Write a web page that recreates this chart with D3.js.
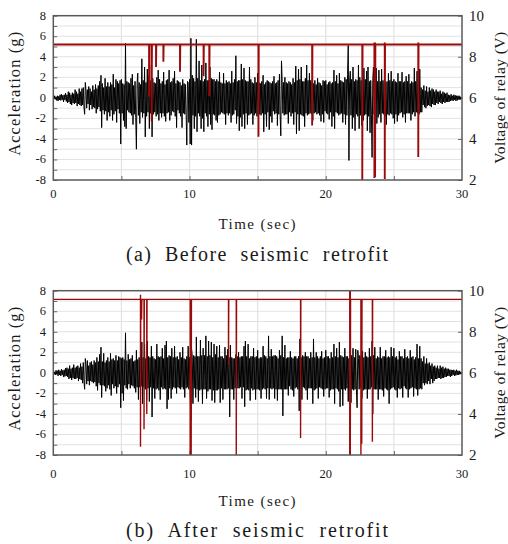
<!DOCTYPE html>
<html>
<head>
<meta charset="utf-8">
<script src="https://cdn.jsdelivr.net/npm/d3@7"></script>
<style>
  body { margin: 0; background: #fff; }
  svg text { font-family: "Liberation Serif", "Times New Roman", Tinos, "DejaVu Serif", serif; fill: #1a1a1a; }
</style>
</head>
<body>
<script>
// acceleration samples every 0.05 s (g)
var accA = [
  0, -0.1, 0.2, -0.15, 0.1, -0.25, 0.2, -0.3, 0.15, -0.2, 0.3, -0.25, 0.35, -0.2, 0.25, -0.4, 0.3, -0.2, 0.45, -0.35,
  0.3, -0.5, 0.6, -0.4, 0.5, -0.6, 0.3, -0.7, 0.5, -0.5, 0.4, -0.6, 0.8, -0.5, 0.6, -0.8, 0.4, -0.6, 0.9, -0.7,
  0.6, -0.8, 0.9, -0.7, 1.0, -0.9, -1.6, 1.5, 0.7, -1.0, 0.8, -0.6, 1.1, -1.2, 0.9, -0.7, 0.6, -1.1, 1.2, -0.9,
  0.8, -1.0, 1.3, -1.5, 0.9, -1.1, 1.2, -0.9, 1.6, -1.3, 2.2, -2.9, 1.4, -1.2, 1.0, -1.6, 1.9, -1.3, 1.1, -2.2,
  1.5, -1.4, 1.1, -1.8, 1.5, -1.2, 1.3, -2.2, 2.3, -1.6, 1.0, -1.3, 1.8, -2.4, 1.6, -1.1, 1.4, -1.5, 1.7, -4.5,
  1.8, -1.5, 1.4, -2.2, 1.3, -2.8, 5.3, -3.0, 1.6, -1.2, 1.5, -1.4, 1.4, -1.5, 1.9, -1.7, 2.3, -2.6, 1.2, -1.6,
  1.6, -1.9, -5.0, 1.4, 2.4, -1.7, 1.5, -2.5, 1.3, -1.4, 3.8, -1.9, 1.7, -1.5, 3.0, -3.8, 1.5, -1.8, 2.8, -1.4,
  2.2, -3.0, 1.7, -1.5, 3.2, -3.8, 1.9, -1.6, 1.5, -1.4, 1.4, -1.8, 2.0, -1.6, 2.7, -2.2, 1.8, -1.5, 1.4, -1.9,
  1.6, -1.5, 2.5, -1.8, 1.3, -2.3, 1.7, -1.5, 1.8, -1.4, 2.7, -2.2, 1.5, -1.7, 1.6, -1.3, 1.9, -1.4, 2.6, -1.8,
  1.4, -2.9, 1.7, -1.2, 1.6, -1.5, 1.5, -1.8, 1.2, -2.9, 1.8, -1.5, 1.4, -1.6, 1.3, -1.6, -4.6, 1.6, 1.5, -2.4,
  1.8, -4.5, 5.8, -4.6, 2.2, -1.7, 1.9, -3.0, 1.6, -1.8, 5.7, -3.3, 1.9, -1.5, 3.6, -1.8, 1.7, -3.0, 3.2, -2.0,
  1.6, -3.3, 1.8, -1.5, 3.4, -1.8, 1.7, -2.8, 1.7, -1.6, 3.0, -2.6, 1.9, -3.1, 1.8, -1.6, 1.8, -1.7, 1.6, -2.2,
  1.8, -2.4, 1.6, -1.7, 2.5, -1.6, 1.5, -1.4, 1.4, -1.5, 2.4, -1.6, 1.4, -2.6, 1.7, -1.5, 1.5, -1.7, 1.6, -1.5,
  1.4, -2.4, 2.6, -1.7, 1.5, -1.6, 1.8, -1.2, 4.1, -2.5, 1.6, -1.8, 1.7, -3.2, 1.7, -1.9, 3.3, -2.8, 1.8, -1.6,
  2.9, -3.0, 1.7, -1.5, 1.6, -2.6, 1.6, -1.7, 3.0, -1.6, 1.8, -1.5, 1.5, -2.6, 1.4, -1.7, 2.0, -1.5, 1.5, -1.8,
  2.4, -1.6, 1.5, -1.6, 1.4, -1.7, 1.6, -1.5, 2.2, -3.3, 1.3, -1.6, 1.5, -2.8, 1.7, -1.4, 1.6, -3.1, 1.5, -1.8,
  1.4, -2.4, 1.6, -1.3, 2.1, -1.6, 1.4, -1.5, 1.5, -2.7, 1.7, -1.6, 2.3, -1.6, -3.7, 3.6, 1.6, -1.5, 1.5, -1.7,
  2.0, -1.6, 1.5, -1.6, 1.4, -2.5, 1.6, -1.4, 1.5, -1.8, 1.3, -1.5, 1.9, -2.6, 1.5, -1.4, 3.1, -3.5, 1.7, -1.6,
  2.8, -3.2, 1.8, -1.6, 3.0, -1.7, 1.6, -1.8, 1.6, -2.8, 1.9, -1.5, 3.2, -1.7, 1.7, -1.6, 2.4, -1.5, 1.7, -1.6,
  1.5, -2.2, 1.4, -1.5, 1.7, -1.4, 1.3, -1.6, 1.9, -1.5, 1.5, -1.7, 1.4, -2.3, 1.2, -1.6, 1.7, -2.4, 1.6, -1.3,
  1.7, -1.5, 1.3, -1.6, 1.5, -2.1, 1.6, -1.4, 1.4, -2.8, 1.5, -1.8, 2.7, -3.0, 1.6, -1.4, 2.2, -1.5, 1.4, -1.7,
  2.4, -1.6, 1.7, -1.5, 1.6, -2.4, 1.5, -1.6, 2.0, -2.6, 1.8, -1.7, 2.3, 5.1, -6.1, 1.6, 2.6, -1.7, 1.8, -3.0,
  3.0, -1.9, 1.6, -3.2, 1.8, -1.6, 1.7, -1.8, 3.2, -3.0, 2.0, -1.7, 1.7, -2.7, 1.5, -2.2, 2.9, -1.7, 1.8, -1.6,
  2.6, -3.2, 3.0, -1.8, 1.6, -3.4, 1.7, -1.6, -5.8, 1.7, 3.0, -1.6, 1.9, -1.8, 2.9, -2.5, 1.6, -1.9, 2.7, -1.6,
  1.6, -2.4, 2.8, -1.5, 1.7, -1.6, 1.5, -1.8, 1.5, -2.6, 1.6, -1.6, 2.4, -1.7, 1.7, -1.5, 2.6, -1.6, 1.6, -2.0,
  1.8, -2.5, 1.6, -1.6, 1.5, -2.3, 2.4, -1.7, 1.6, -1.5, 1.6, -1.4, 2.5, -1.9, 1.5, -1.6, 1.6, -2.4, 2.1, -1.5,
  1.6, -1.5, 2.3, -1.5, 1.4, -2.2, 1.6, -1.6, 1.5, -1.4, 2.9, -1.8, 1.6, -1.4, 2.6, -1.5, 1.4, -1.6, 2.8, -1.4,
  1.0, -1.4, 0.8, -0.7, 1.2, -0.9, 0.7, -1.0, 1.1, -0.8, 0.6, -0.7, 1.0, -0.8, 0.7, -0.9, 0.9, -0.6, 0.8, -0.7,
  0.6, -0.7, 0.8, -0.5, 0.6, -0.6, 0.6, -0.4, 0.7, -0.5, 0.4, -0.6, 0.6, -0.4, 0.5, -0.5, 0.4, -0.4, 0.5, -0.4,
  0.3, -0.4, 0.25, -0.3, 0.35, -0.25, 0.2, -0.3, 0.3, -0.2, 0.25, -0.3, 0.2, -0.25, 0.2, -0.15, 0.2, -0.2, 0.1, -0.1,
  0
];
var accB = [
  0, -0.15, 0.1, -0.2, 0.25, -0.15, 0.2, -0.3, 0.3, -0.2, 0.2, -0.3, 0.35, -0.2, 0.25, -0.4, 0.3, -0.35, 0.45, -0.3,
  0.5, -0.4, 0.4, -0.6, 0.7, -0.5, 0.4, -0.7, 0.5, -0.5, 0.8, -0.6, 0.5, -0.6, 0.6, -0.5, 0.7, -0.8, 0.5, -0.6,
  0.9, -0.7, 0.6, -1.0, 1.0, -0.8, -1.6, 1.4, 0.7, -1.1, 1.2, -0.8, 0.7, -1.2, 1.0, -0.8, 1.1, -0.9, 0.8, -1.0,
  1.2, -0.9, 1.0, -1.3, 1.5, -1.7, 1.1, -1.0, 1.8, -1.2, 2.5, -2.4, 1.1, -1.2, 1.9, -1.3, 1.0, -1.8, 1.2, -1.5,
  1.5, -1.2, 1.1, -1.6, 1.9, -2.2, 1.3, -1.1, 1.4, -1.5, 1.2, -1.3, 1.7, -2.0, 1.2, -1.4, 1.6, -1.1, 1.5, -3.4,
  1.4, -2.0, 1.5, -2.7, 1.3, -1.2, 3.9, -1.5, 1.2, -1.6, 1.8, -1.1, 1.3, -1.5, 1.4, -1.2, 1.7, -1.3, 1.1, -1.5,
  1.2, -1.9, 2.2, -1.4, 1.3, -2.6, 1.5, -1.4, 1.6, -1.3, 3.0, -3.0, 1.5, -1.4, 2.8, -1.6, 1.4, -2.6, 3.1, -1.5,
  1.6, -2.8, 1.5, -1.4, 2.6, -4.3, 1.6, -1.5, 1.4, -2.5, 1.3, -1.6, 2.8, -1.5, 1.6, -1.7, 1.5, -2.6, 1.6, -1.4,
  2.4, -1.6, 1.4, -1.5, 2.7, -1.6, 3.1, -3.5, 1.5, -2.6, 1.7, -1.5, 1.6, -2.5, 2.4, -1.6, 1.5, -1.4, 2.6, -1.5,
  1.5, -2.0, 1.6, -1.4, 1.3, -1.5, 2.0, -1.6, 1.5, -1.4, 2.5, -1.6, 1.4, -2.4, 1.3, -1.5, 1.6, -1.4, 2.6, -1.6,
  1.5, -2.2, -4.6, 2.3, 1.6, -3.0, 1.7, -1.5, 1.6, -2.4, 3.5, -1.6, 1.6, -2.8, 1.6, -1.7, 3.2, -1.6, 1.7, -3.0,
  2.4, -1.6, 1.7, -1.6, 3.6, -2.5, 1.6, -1.8, 3.1, -1.6, 1.7, -1.6, 3.0, -2.7, 1.5, -1.7, 2.8, -2.9, 1.8, -1.7,
  2.6, -1.7, 1.5, -1.6, 2.7, -2.9, 1.6, -1.5, 1.6, -2.6, 1.4, -1.6, 2.5, -1.6, 1.7, -1.6, 2.3, -1.5, 1.5, -4.3,
  2.7, -1.6, 1.5, -1.6, 1.4, -2.6, 1.4, -1.5, 1.8, -1.6, 1.6, -1.5, 2.0, -1.5, 1.5, -1.4, 1.6, -2.5, 1.6, -1.4,
  2.6, -3.3, 3.1, -1.7, 1.6, -1.6, 2.8, -1.7, 1.4, -2.7, 1.6, -1.5, 1.6, -1.7, 2.4, -1.6, 1.5, -2.6, 1.6, -1.6,
  2.2, -1.6, 1.4, -1.7, 1.5, -2.5, 1.5, -1.6, 2.6, -1.5, 1.7, -1.6, 1.6, -2.5, 1.4, -1.5, 3.6, -2.6, 1.6, -1.5,
  2.3, -1.6, 1.6, -1.5, 1.7, -2.5, 1.7, -1.6, 1.6, -2.7, 1.4, -1.6, 2.2, -1.6, 1.7, -1.6, 3.6, -4.2, 1.5, -1.6,
  2.7, -1.6, 1.4, -1.6, 1.5, -2.2, 1.5, -1.3, 2.1, -1.6, 1.5, -1.7, 1.4, -2.3, 1.6, -1.5, 1.6, -1.4, 1.4, -1.6,
  1.6, -3.7, 3.3, -1.6, 1.5, -2.6, 1.7, -1.4, 1.6, -1.5, 2.0, -1.7, 1.6, -2.6, 1.6, -1.5, 1.4, -1.5, 2.0, -1.5,
  1.5, -3.0, 3.3, -1.7, 1.5, -1.6, 2.0, -1.5, 1.6, -2.5, 1.4, -1.4, 1.6, -1.5, 2.1, -1.6, 1.4, -2.3, 1.5, -1.6,
  2.2, -1.5, 1.6, -1.5, 1.6, -2.4, 1.4, -1.7, 2.0, -1.6, 1.5, -1.6, 2.8, -3.0, 1.6, -1.5, 2.4, -1.6, 1.5, -1.8,
  3.0, -3.3, 1.7, -1.6, 1.6, -3.2, 1.5, -1.6, 2.4, -1.7, 1.6, -1.5, 1.6, -2.8, 1.4, -1.7, 2.5, -2.9, 1.7, -1.6,
  2.4, -1.7, 1.5, -1.6, 2.3, -1.6, -3.4, 2.2, 1.4, -1.6, 1.7, -1.5, 1.6, -2.5, 2.1, -1.7, 1.5, -1.6, 2.0, -1.6,
  1.6, -2.5, 1.5, -1.6, 2.4, -1.6, 1.6, -1.4, 3.1, -4.0, 1.7, -1.6, 2.5, -1.6, 1.4, -1.6, 1.6, -2.6, 1.5, -1.6,
  2.5, -1.6, 1.4, -1.7, 1.6, -2.3, 1.6, -1.5, 2.2, -1.6, 1.5, -1.7, 1.6, -3.0, 1.5, -1.6, 2.5, -1.5, 1.6, -1.4,
  2.4, -1.6, 1.5, -1.7, 1.6, -2.4, 1.3, -1.5, 2.1, -1.6, 1.6, -1.5, 1.6, -2.4, 1.4, -1.3, 2.3, -1.5, 1.5, -1.6,
  1.6, -2.4, 1.4, -1.6, 2.2, -1.5, 1.5, -1.4, 1.6, -2.3, 1.3, -1.5, 1.5, -1.6, 2.8, -2.2, 1.4, -1.6, 2.6, -1.5,
  1.4, -1.6, 1.1, -1.0, 1.6, -1.2, 0.9, -1.0, 1.4, -1.1, 0.9, -0.8, 1.0, -1.1, 0.7, -0.6, 0.9, -1.0, 0.6, -0.8,
  0.7, -0.6, 0.5, -0.6, 0.7, -0.5, 0.4, -0.5, 0.7, -0.6, 0.5, -0.5, 0.6, -0.5, 0.4, -0.4, 0.5, -0.4, 0.4, -0.3,
  0.4, -0.3, 0.3, -0.4, 0.3, -0.3, 0.25, -0.2, 0.3, -0.3, 0.2, -0.25, 0.3, -0.2, 0.2, -0.2, 0.2, -0.15, 0.1, -0.1,
  0
];
var sampleStep = 0.05;

// relay voltage: resting level and the drops (V)
var relayBaseA = 8.6;
var dipTimesA = [7.03, 7.22, 7.54, 8.08, 9.3, 11.03, 11.45, 15.06, 19.0, 22.68, 23.57, 23.62, 24.33, 26.79];
var dipTopsA  = [8.6, 8.6, 8.6, 8.6, 8.6, 8.6, 8.6, 8.6, 8.6, 8.6, 8.7, 8.7, 8.7, 8.7];
var dipMinsA  = [6.05, 4.85, 7.5, 7.76, 7.27, 7.05, 6.08, 4.1, 4.65, 2.0, 2.1, 2.15, 2.05, 3.12];

var relayBaseB = 9.58;
var dipTimesB = [6.40, 6.48, 6.66, 6.86, 10.05, 10.12, 12.86, 13.43, 18.15, 21.76, 21.80, 22.58, 22.64, 23.42];
var dipTopsB  = [9.8, 9.58, 9.58, 9.58, 9.58, 9.58, 9.58, 9.58, 9.58, 10, 10, 9.58, 9.58, 9.58];
var dipMinsB  = [2.4, 8.6, 3.25, 4.0, 2.0, 2.0, 6.4, 2.0, 2.83, 2.0, 2.0, 2.0, 2.55, 2.65];

var accTicks = [-8, -6, -4, -2, 0, 2, 4, 6, 8];
var voltTicks = [2, 4, 6, 8, 10];
var timeTicks = [0, 10, 20, 30];

var w = 508, h = 544;
var svg = d3.select("body").append("svg").attr("width", w).attr("height", h)
  .attr("font-family", "'Liberation Serif', 'Times New Roman', Tinos, 'DejaVu Serif', serif");
svg.append("rect").attr("width", w).attr("height", h).attr("fill", "#fff");

var left = 53.3, right = 462;

function panel(top, bottom, acc, base, dipT, dipTop, dipMin, caption, tickY, titleY, capY, redW) {
  var x = d3.scaleLinear().domain([0, 30]).range([left, right]);
  var ya = d3.scaleLinear().domain([-8, 8]).range([bottom, top]);
  var yv = d3.scaleLinear().domain([2, 10]).range([bottom, top]);
  var g = svg.append("g");

  // grid
  g.selectAll(".hg").data(d3.range(-7, 8)).enter().append("line")
    .attr("x1", left).attr("x2", right)
    .attr("y1", function (d) { return ya(d); }).attr("y2", function (d) { return ya(d); })
    .attr("stroke", "#e2e2e2").attr("stroke-width", 1);
  g.selectAll(".vg").data([5, 10, 15, 20, 25]).enter().append("line")
    .attr("y1", top).attr("y2", bottom)
    .attr("x1", function (d) { return x(d); }).attr("x2", function (d) { return x(d); })
    .attr("stroke", "#e2e2e2").attr("stroke-width", 1.2);

  // axes (inward ticks)
  g.append("g").attr("transform", "translate(" + left + ",0)")
    .call(d3.axisLeft(ya).tickValues(d3.range(-8, 9)).tickSize(-4).tickFormat(""))
    .call(function (a) { a.select(".domain").remove(); a.selectAll("line").attr("stroke", "#666"); });
  g.append("g").attr("transform", "translate(" + right + ",0)")
    .call(d3.axisRight(yv).tickValues(voltTicks).tickSize(-4).tickFormat(""))
    .call(function (a) { a.select(".domain").remove(); a.selectAll("line").attr("stroke", "#666"); });
  g.append("g").attr("transform", "translate(0," + bottom + ")")
    .call(d3.axisBottom(x).tickValues([5, 10, 15, 20, 25]).tickSize(-4).tickFormat(""))
    .call(function (a) { a.select(".domain").remove(); a.selectAll("line").attr("stroke", "#666"); });

  // tick labels
  g.selectAll(".al").data(accTicks).enter().append("text")
    .attr("x", 46).attr("y", function (d) { return ya(d) + 4; })
    .attr("text-anchor", "end").attr("font-size", 12.5)
    .text(function (d) { return d; });
  g.selectAll(".vl").data(voltTicks).enter().append("text")
    .attr("x", 469).attr("y", function (d) { return yv(d) + 5; })
    .attr("font-size", 15)
    .text(function (d) { return d; });
  g.selectAll(".tl").data(timeTicks).enter().append("text")
    .attr("x", function (d) { return x(d); }).attr("y", tickY)
    .attr("text-anchor", "middle").attr("font-size", 12.5)
    .text(function (d) { return d; });

  // acceleration signal
  var line = d3.line()
    .x(function (d, i) { return x(i * sampleStep); })
    .y(function (d) { return ya(d); });
  g.append("path").datum(acc).attr("d", line)
    .attr("fill", "none").attr("stroke", "#000").attr("stroke-width", 1);

  // relay voltage
  var pts = [[0, base]];
  dipT.forEach(function (t, i) {
    pts.push([t, base], [t, dipTop[i]], [t, dipMin[i]], [t + 0.02, base]);
  });
  pts.push([30, base]);
  var vline = d3.line()
    .x(function (d) { return x(d[0]); })
    .y(function (d) { return yv(d[1]); });
  g.append("path").datum(pts).attr("d", vline)
    .attr("fill", "none").attr("stroke", "#9b0a0a").attr("stroke-width", redW);

  // frame
  g.append("rect").attr("x", left).attr("y", top)
    .attr("width", right - left).attr("height", bottom - top)
    .attr("fill", "none").attr("stroke", "#5a5a5a").attr("stroke-width", 1.5);

  // axis titles
  var mid = (top + bottom) / 2;
  g.append("text").attr("transform", "translate(20," + (mid - 4) + ") rotate(-90)")
    .attr("text-anchor", "middle").attr("font-size", 16.5)
    .attr("textLength", 124).attr("lengthAdjust", "spacing")
    .text("Acceleration (g)");
  g.append("text").attr("transform", "translate(505," + mid + ") rotate(-90)")
    .attr("text-anchor", "middle").attr("font-size", 15.5)
    .attr("textLength", 132).attr("lengthAdjust", "spacing")
    .text("Voltage of relay (V)");
  g.append("text").attr("x", 257).attr("y", titleY)
    .attr("text-anchor", "middle").attr("font-size", 15)
    .attr("textLength", 77).attr("lengthAdjust", "spacing")
    .text("Time (sec)");
  g.append("text").attr("x", 257).attr("y", capY)
    .attr("text-anchor", "middle").attr("font-size", 20)
    .attr("textLength", 262).attr("lengthAdjust", "spacing")
    .style("white-space", "pre")
    .text(caption);
}

panel(15.7, 180, accA, relayBaseA, dipTimesA, dipTopsA, dipMinsA,
  "(a)  Before  seismic  retrofit", 198, 229, 261, 1.9);
panel(290.7, 455, accB, relayBaseB, dipTimesB, dipTopsB, dipMinsB,
  "(b)  After  seismic  retrofit", 478, 506, 537, 1.4);
</script>
</body>
</html>
